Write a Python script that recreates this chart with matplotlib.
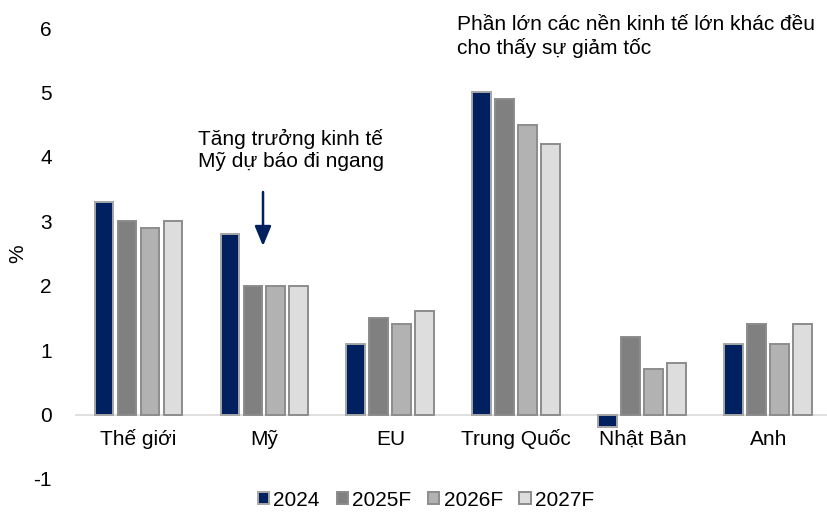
import matplotlib
matplotlib.use("Agg")
import matplotlib.pyplot as plt
import numpy as np

categories = ["Thế giới", "Mỹ", "EU", "Trung Quốc", "Nhật Bản", "Anh"]
series_names = ["2024", "2025F", "2026F", "2027F"]
v2024 = [3.3, 2.8, 1.1, 5.0, -0.2, 1.1]
v2025 = [3.0, 2.0, 1.5, 4.9, 1.2, 1.4]
v2026 = [2.9, 2.0, 1.4, 4.5, 0.7, 1.1]
v2027 = [3.0, 2.0, 1.6, 4.2, 0.8, 1.4]
yticks = [-1, 0, 1, 2, 3, 4, 5, 6]

colors = ["#002060", "#808080", "#B2B2B2", "#DDDDDD"]
edges = ["#A6A6A6", "#8C8C8C", "#8C8C8C", "#8C8C8C"]

plt.rcParams["font.family"] = ["Liberation Sans", "DejaVu Sans"]
FS = 15

W, H = 828, 513
fig = plt.figure(figsize=(W / 100, H / 100), dpi=100)
ax = fig.add_axes([75.5 / W, 1 - 479 / H, 752 / W, (479 - 28) / H])

x = np.arange(len(categories))
step = 0.1825
width = 0.15
for i, (vals, c, e, name) in enumerate(zip([v2024, v2025, v2026, v2027], colors, edges, series_names)):
    ax.bar(x + (i - 1.5) * step, vals, width, color=c, edgecolor=e, linewidth=1.4, label=name, zorder=3)

ax.set_xlim(-0.5, 5.47)
ax.set_ylim(-1, 6)
ax.axhline(0, color="#D9D9D9", linewidth=1.2, zorder=2)
for s in ax.spines.values():
    s.set_visible(False)
ax.set_xticks([])
ax.set_yticks(yticks)
ax.set_yticklabels([str(t) for t in yticks], fontsize=FS)
ax.tick_params(axis="y", length=0, pad=17)

fig.text(18 / W, 1 - 254 / H, "%", rotation=90, ha="center", va="center", fontsize=FS)

for xi, cat in zip(x, categories):
    ax.text(xi, -0.38, cat, ha="center", va="center", fontsize=FS)

fig.text(198 / W, 1 - 150 / H, "Tăng trưởng kinh tế\nMỹ dự báo đi ngang", ha="left", va="center",
         fontsize=FS, linespacing=1.25)
fig.text(457 / W, 1 - 37 / H, "Phần lớn các nền kinh tế lớn khác đều\ncho thấy sự giảm tốc", ha="left",
         va="center", fontsize=FS, linespacing=1.25)
ax.annotate("", xy=(263 / W, 1 - 246 / H), xytext=(263 / W, 1 - 192 / H), xycoords="figure fraction",
            textcoords="figure fraction",
            arrowprops=dict(arrowstyle="-|>,head_width=0.5,head_length=1.2", color="#002060", lw=1.8,
                            shrinkA=0, shrinkB=0))

leg = fig.legend(loc="center", bbox_to_anchor=(426 / W, 1 - 500 / H), ncol=4, frameon=False, fontsize=FS,
                 handlelength=0.55, handleheight=0.55, handletextpad=0.2, columnspacing=0.8,
                 borderpad=0, borderaxespad=0)

fig.savefig("out.png", dpi=100)
